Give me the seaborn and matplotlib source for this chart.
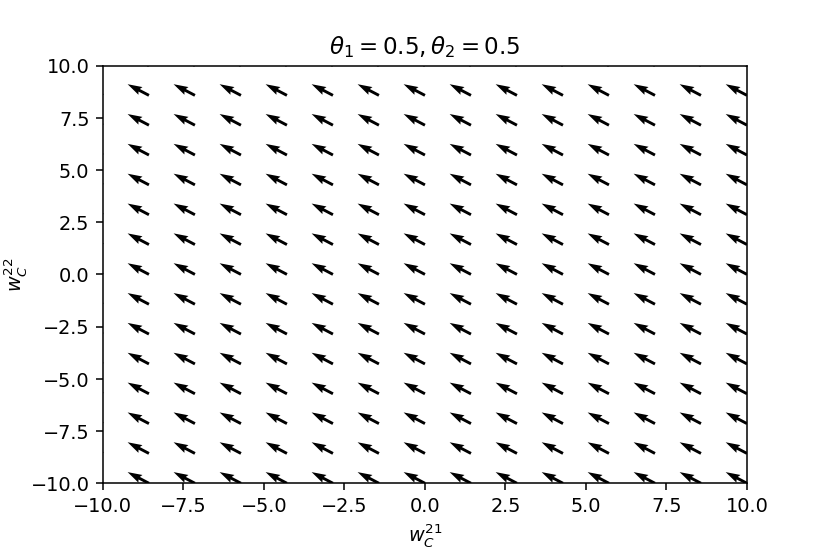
import matplotlib
matplotlib.use("Agg")
import matplotlib.pyplot as plt
import matplotlib.ticker as mticker
import numpy as np
import seaborn as sns

# grid of the vector field (15 x 15 over [-10, 10])
W21_GRID = [-10.0, -8.571, -7.143, -5.714, -4.286, -2.857, -1.429, 0.0,
            1.429, 2.857, 4.286, 5.714, 7.143, 8.571, 10.0]
W22_GRID = [-10.0, -8.571, -7.143, -5.714, -4.286, -2.857, -1.429, 0.0,
            1.429, 2.857, 4.286, 5.714, 7.143, 8.571, 10.0]

# field direction (same everywhere)
U_VALUE = -0.886
V_VALUE = 0.464

TICKS = [-10, -7.5, -5, -2.5, 0, 2.5, 5, 7.5, 10]
TITLE = r"$\theta_1 = 0.5, \theta_2 = 0.5$"
XLABEL = r"$w_C^{21}$"
YLABEL = r"$w_C^{22}$"

sns.set_style("ticks", {
    "axes.edgecolor": "black",
    "xtick.color": "black",
    "ytick.color": "black",
    "text.color": "black",
    "axes.labelcolor": "black",
})
plt.rcParams["font.family"] = ["DejaVu Sans"]
plt.rcParams.update({
    "font.size": 10,
    "xtick.labelsize": 10,
    "ytick.labelsize": 10,
    "axes.titlesize": 12,
    "axes.labelsize": 10,
})

X, Y = np.meshgrid(W21_GRID, W22_GRID)
U = np.full(X.shape, U_VALUE)
V = np.full(X.shape, V_VALUE)

fig, ax = plt.subplots(figsize=(6, 4), dpi=138.33)
fig.subplots_adjust(left=0.124, right=0.9, top=0.881, bottom=0.126)

ax.quiver(X, Y, U, V, color="black", scale_units="inches", scale=1 / 0.174,
          width=0.0045)

minus_fmt = mticker.FuncFormatter(lambda v, p: f"{v:.1f}".replace("-", "\u2212"))
ax.set_xlim(-10, 10)
ax.set_ylim(-10, 10)
ax.set_xticks(TICKS)
ax.set_yticks(TICKS)
ax.xaxis.set_major_formatter(minus_fmt)
ax.yaxis.set_major_formatter(minus_fmt)
ax.set_xlabel(XLABEL, labelpad=3)
ax.set_ylabel(YLABEL, labelpad=1)
ax.set_title(TITLE)

fig.savefig("out.png", dpi=138.33)
